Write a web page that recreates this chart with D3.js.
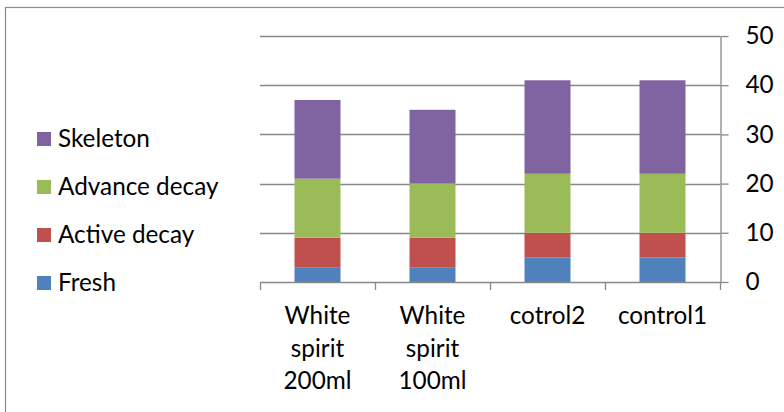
<!DOCTYPE html>
<html>
<head>
<meta charset="utf-8">
<script src="https://cdn.jsdelivr.net/npm/d3@7/dist/d3.min.js"></script>
<style>
  html, body { margin: 0; padding: 0; background: #fff; }
  svg { display: block; }
  text { font-family: Lato, "Open Sans", sans-serif; fill: #000; }
</style>
</head>
<body>
<svg id="chart" width="784" height="412"></svg>
<script>
// Stages of carcass decomposition per treatment
const categories = ["White spirit 200ml", "White spirit 100ml", "cotrol2", "control1"];
const fresh       = [3, 3, 5, 5];
const activeDecay = [6, 6, 5, 5];
const advanceDecay = [12, 11, 12, 12];
const skeleton    = [16, 15, 19, 19];
const yTicks = [0, 10, 20, 30, 40, 50];

const seriesNames  = ["Fresh", "Active decay", "Advance decay", "Skeleton"];
const seriesValues = [fresh, activeDecay, advanceDecay, skeleton];
const colors = ["#4F81BD", "#C0504D", "#9BBB59", "#8064A2"];

const rows = categories.map((c, i) => {
  const r = { category: c };
  seriesNames.forEach((s, k) => { r[s] = seriesValues[k][i]; });
  return r;
});
const stacked = d3.stack().keys(seriesNames)(rows);

const svg = d3.select("#chart");
const FONT = 24.3;
const plot = { left: 260, right: 720, top: 36, bottom: 282 };

// chart border (continues past the right and bottom edges)
svg.append("rect")
  .attr("x", 5.5).attr("y", 7.5)
  .attr("width", 800).attr("height", 420)
  .attr("fill", "none").attr("stroke", "#8a8a8a").attr("stroke-width", 1.2);

const x = d3.scaleBand()
  .domain(categories)
  .range([plot.left, plot.right])
  .paddingInner(0.6)
  .paddingOuter(0.3);
const step = x.step();

const y = d3.scaleLinear().domain([0, 50]).range([plot.bottom, plot.top]);

// gridlines
svg.append("g").selectAll("line")
  .data(yTicks.filter(t => t > 0))
  .join("line")
  .attr("x1", plot.left).attr("x2", plot.right)
  .attr("y1", d => Math.round(y(d)) + 0.5).attr("y2", d => Math.round(y(d)) + 0.5)
  .attr("stroke", "#888").attr("stroke-width", 1.3);

// stacked bars
svg.append("g").selectAll("g")
  .data(stacked)
  .join("g")
  .attr("fill", (d, i) => colors[i])
  .selectAll("rect")
  .data(d => d)
  .join("rect")
  .attr("x", d => x(d.data.category))
  .attr("width", x.bandwidth())
  .attr("y", d => y(d[1]))
  .attr("height", d => y(d[0]) - y(d[1]));

// right value axis
const yAxis = d3.axisRight(y)
  .tickValues(yTicks)
  .tickSize(8)
  .tickSizeOuter(0)
  .tickPadding(17);
const ya = svg.append("g")
  .attr("transform", `translate(${plot.right + 0.5},0)`)
  .call(yAxis);
ya.select(".domain").attr("stroke", "#888").attr("stroke-width", 1.3);
ya.selectAll(".tick line").attr("stroke", "#888").attr("stroke-width", 1.3);
ya.selectAll(".tick text")
  .attr("font-size", FONT)
  .attr("font-family", "Lato, sans-serif")
  .attr("fill", "#000");

// category axis along the bottom
const xa = svg.append("g");
xa.append("line")
  .attr("x1", plot.left).attr("x2", plot.right)
  .attr("y1", plot.bottom + 0.5).attr("y2", plot.bottom + 0.5)
  .attr("stroke", "#888").attr("stroke-width", 1.3);
xa.selectAll("line.tick")
  .data(d3.range(categories.length + 1))
  .join("line")
  .attr("class", "tick")
  .attr("x1", i => Math.round(plot.left + i * step) + 0.5)
  .attr("x2", i => Math.round(plot.left + i * step) + 0.5)
  .attr("y1", plot.bottom).attr("y2", plot.bottom + 8)
  .attr("stroke", "#888").attr("stroke-width", 1.3);

// wrapped category labels
const lineHeight = 32.5;
categories.forEach(cat => {
  const cx = x(cat) + x.bandwidth() / 2;
  const t = svg.append("text")
    .attr("text-anchor", "middle")
    .attr("font-size", FONT);
  const words = cat.split(" ");
  let lines = [];
  let cur = [];
  const probe = t.append("tspan");
  words.forEach(w => {
    const trial = cur.concat([w]).join(" ");
    probe.text(trial);
    if (cur.length && probe.node().getComputedTextLength() > step - 4) {
      lines.push(cur.join(" "));
      cur = [w];
    } else {
      cur.push(w);
    }
  });
  lines.push(cur.join(" "));
  probe.remove();
  lines.forEach((ln, i) => {
    t.append("tspan")
      .attr("x", cx)
      .attr("y", 324 + i * lineHeight)
      .text(ln);
  });
});

// legend (top to bottom: Skeleton ... Fresh)
const legendOrder = [3, 2, 1, 0];
const lg = svg.append("g");
legendOrder.forEach((k, i) => {
  const base = 146.5 + i * 48;
  lg.append("rect")
    .attr("x", 37).attr("y", base - 14.5)
    .attr("width", 14).attr("height", 14)
    .attr("fill", colors[k]);
  lg.append("text")
    .attr("x", 58).attr("y", base)
    .attr("font-size", FONT)
    .text(seriesNames[k]);
});
</script>
</body>
</html>
